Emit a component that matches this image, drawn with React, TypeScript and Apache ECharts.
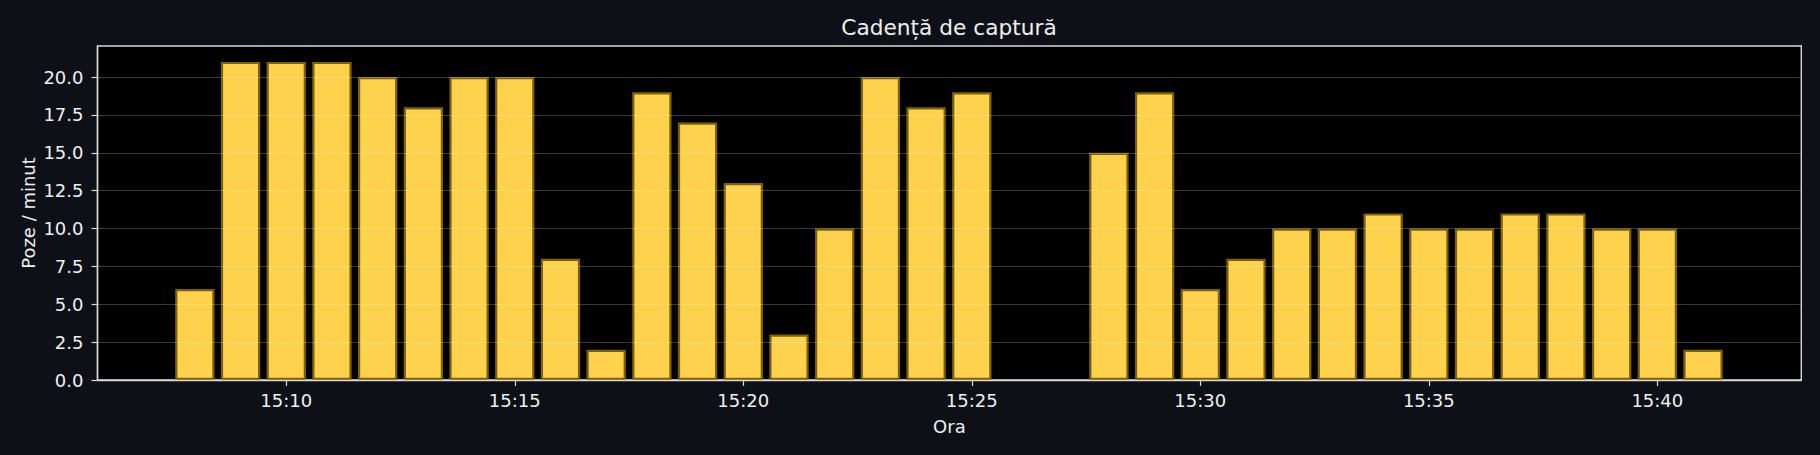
import React, { useEffect, useRef } from 'react';
import * as echarts from 'echarts';

// minutes after 15:00 and the number of photos taken in that minute
const minutes = [8, 9, 10, 11, 12, 13, 14, 15, 16, 17, 18, 19, 20, 21, 22, 23, 24, 25,
    28, 29, 30, 31, 32, 33, 34, 35, 36, 37, 38, 39, 40, 41];
const photos = [6, 21, 21, 21, 20, 18, 20, 20, 8, 2, 19, 17, 13, 3, 10, 20, 18, 19,
    15, 19, 6, 8, 10, 10, 11, 10, 10, 11, 11, 10, 10, 2];
const xTicks = [10, 15, 20, 25, 30, 35, 40];
const yTicks = [0, 2.5, 5, 7.5, 10, 12.5, 15, 17.5, 20];

const FONT = 'DejaVu Sans';
const TEXT = '#f0f0f0';
const SPINE = '#d8d8d8';

const hhmm = (m: number) => `15:${String(Math.round(m)).padStart(2, '0')}`;

export default function App() {
    const chartRef = useRef<HTMLDivElement>(null);

    useEffect(() => {
        document.body.style.margin = '0';
        const chart = echarts.init(chartRef.current!, undefined, { renderer: 'svg' });

        chart.setOption({
            animation: false,
            backgroundColor: '#0d1117',
            textStyle: { fontFamily: FONT },
            title: {
                text: 'Cadență de captură',
                left: 944,
                top: 11,
                textAlign: 'center',
                textStyle: { color: TEXT, fontSize: 21.7, fontWeight: 'normal', fontFamily: FONT },
            },
            grid: {
                left: 97.5,
                right: 18.7,
                top: 46,
                bottom: 75,
                show: true,
                backgroundColor: '#000000',
                borderColor: SPINE,
                borderWidth: 1.4,
            },
            xAxis: {
                type: 'value',
                min: 5.87,
                max: 43.15,
                z: 5,
                name: 'Ora',
                nameLocation: 'middle',
                nameGap: 37,
                nameMoveOverlap: false,
                nameTextStyle: { color: TEXT, fontSize: 18, fontFamily: FONT },
                axisLine: { show: true, lineStyle: { color: SPINE, width: 1.4 } },
                axisTick: { show: true, length: 6, customValues: xTicks, lineStyle: { color: SPINE, width: 1.2 } },
                axisLabel: {
                    customValues: xTicks,
                    color: TEXT,
                    fontSize: 18,
                    margin: 11,
                    fontFamily: FONT,
                    formatter: (v: number) => hhmm(v),
                },
                splitLine: { show: false },
            },
            yAxis: {
                type: 'value',
                min: 0,
                max: 22.05,
                interval: 2.5,
                z: 5,
                name: 'Poze / minut',
                nameLocation: 'middle',
                nameGap: 60,
                nameMoveOverlap: false,
                nameTextStyle: { color: TEXT, fontSize: 18, fontFamily: FONT },
                axisLine: { show: true, lineStyle: { color: SPINE, width: 1.4 } },
                axisTick: { show: true, length: 6, customValues: yTicks, lineStyle: { color: SPINE, width: 1.2 } },
                axisLabel: {
                    customValues: yTicks,
                    color: TEXT,
                    fontSize: 18,
                    margin: 14,
                    fontFamily: FONT,
                    formatter: (v: number) => v.toFixed(1),
                },
                splitLine: { show: true, lineStyle: { color: 'rgba(255,255,255,0.22)', width: 1 } },
            },
            series: [
                {
                    type: 'bar',
                    barWidth: '86%',
                    data: minutes.map((m, i) => [m, photos[i]]),
                    itemStyle: {
                        color: '#ffd24d',
                        borderColor: '#7d6205',
                        borderWidth: 2.2,
                    },
                },
            ],
        });

        return () => {
            chart.dispose();
        };
    }, []);

    return <div ref={chartRef} style={{ width: 1820, height: 455 }} />;
}
